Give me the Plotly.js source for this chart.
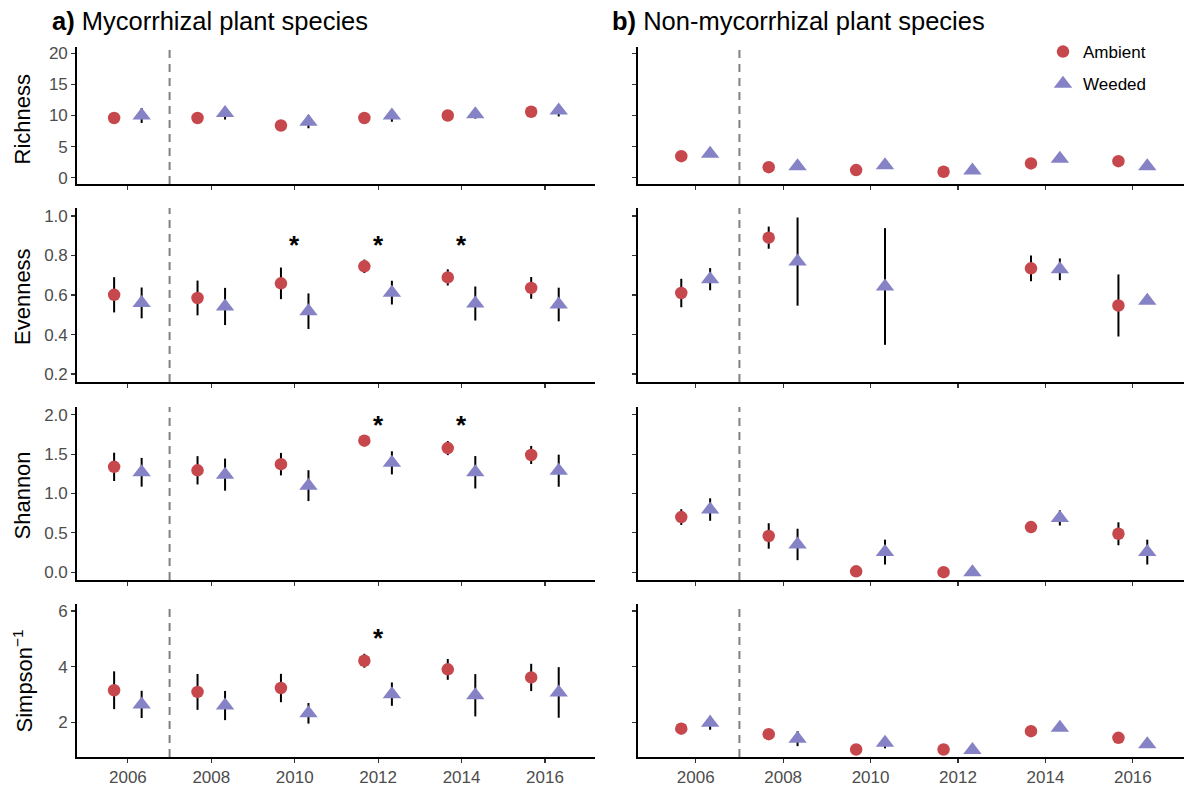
<!DOCTYPE html>
<html>
<head>
<meta charset="utf-8">
<script src="https://cdn.plot.ly/plotly-3.0.1.min.js"></script>
<style>html,body{margin:0;padding:0;background:#fff;}#chart{width:1184px;height:786px;}</style>
</head>
<body>
<div id="chart"></div>
<script>
// ---------------- data ----------------
const years = [2006, 2008, 2010, 2012, 2014, 2016];
const groups = ["Ambient", "Weeded"];
const panelTitles = ["Mycorrhizal plant species", "Non-mycorrhizal plant species"];
const panelLetters = ["a)", "b)"];
const metricNames = ["Richness", "Evenness", "Shannon", "Simpson<sup>\u22121</sup>"];

// Mycorrhizal (a)
const richM_amb = [9.6, 9.6, 8.4, 9.6, 10.0, 10.6];
const richM_amb_se = [0.6, 0.6, 0.6, 0.6, 0.6, 0.6];
const richM_wee = [10.0, 10.4, 9.0, 10.0, 10.2, 10.8];
const richM_wee_se = [1.2, 1.05, 1.05, 1.0, 0.7, 0.95];

const evenM_amb = [0.601, 0.585, 0.659, 0.745, 0.689, 0.636];
const evenM_amb_se = [0.089, 0.088, 0.080, 0.034, 0.041, 0.055];
const evenM_wee = [0.560, 0.542, 0.518, 0.612, 0.557, 0.552];
const evenM_wee_se = [0.078, 0.094, 0.090, 0.060, 0.086, 0.085];

const shanM_amb = [1.339, 1.295, 1.373, 1.672, 1.578, 1.490];
const shanM_amb_se = [0.18, 0.18, 0.143, 0.03, 0.09, 0.115];
const shanM_wee = [1.27, 1.24, 1.10, 1.39, 1.27, 1.29];
const shanM_wee_se = [0.183, 0.204, 0.196, 0.147, 0.206, 0.204];

const simpM_amb = [3.15, 3.09, 3.23, 4.21, 3.90, 3.61];
const simpM_amb_se = [0.68, 0.645, 0.51, 0.25, 0.375, 0.49];
const simpM_wee = [2.64, 2.60, 2.32, 3.01, 2.97, 3.07];
const simpM_wee_se = [0.49, 0.525, 0.37, 0.42, 0.76, 0.91];

// Non-mycorrhizal (b)
const richN_amb = [3.47, 1.70, 1.23, 0.96, 2.30, 2.67];
const richN_amb_se = [0.3, 0.3, 0.3, 0.3, 0.3, 0.3];
const richN_wee = [3.84, 1.87, 2.03, 1.17, 3.04, 1.87];
const richN_wee_se = [0.4, 0.4, 0.4, 0.3, 0.4, 0.3];

const evenN_amb = [0.610, 0.890, null, null, 0.735, 0.547];
const evenN_amb_se = [0.072, 0.056, null, null, 0.065, 0.157];
const evenN_wee = [0.680, 0.769, 0.643, null, 0.730, 0.571];
const evenN_wee_se = [0.056, 0.223, 0.295, null, 0.055, 0];

const shanN_amb = [0.700, 0.460, 0.010, 0.000, 0.573, 0.488];
const shanN_amb_se = [0.10, 0.162, 0, 0, 0.02, 0.146];
const shanN_wee = [0.796, 0.352, 0.255, 0.000, 0.690, 0.255];
const shanN_wee_se = [0.143, 0.200, 0.158, 0, 0.097, 0.158];

const simpN_amb = [1.77, 1.57, 1.02, 1.02, 1.68, 1.44];
const simpN_amb_se = [0.05, 0.05, 0.05, 0.02, 0.05, 0.05];
const simpN_wee = [1.98, 1.41, 1.26, 1.00, 1.80, 1.21];
const simpN_wee_se = [0.25, 0.27, 0.20, 0, 0.05, 0];

// significance stars: metric row, year, value
const starRows = [1, 1, 1, 2, 2, 3];
const starYears = [2010, 2012, 2014, 2012, 2014, 2012];
const starVals = [0.876, 0.876, 0.876, 1.93, 1.93, 5.2];

// axis ticks per metric
const yTickVals = [[0, 5, 10, 15, 20], [0.2, 0.4, 0.6, 0.8, 1.0], [0, 0.5, 1.0, 1.5, 2.0], [2, 4, 6]];
const yTickText = [["0", "5", "10", "15", "20"], ["0.2", "0.4", "0.6", "0.8", "1.0"], ["0.0", "0.5", "1.0", "1.5", "2.0"], ["2", "4", "6"]];
const yRanges = [[-1, 21], [0.16, 1.04], [-0.1, 2.1], [0.75, 6.25]];
const xRanges = [[2004.78, 2017.2], [2004.68, 2017.17]];
const treatmentYear = 2007;

// ---------------- layout / styling ----------------
const W = 1184, H = 786;
const colPx = [[77, 595], [638, 1184]];
const rowPx = [[47, 184], [208, 382], [407, 580], [604, 757]];
const titleShift = [4, 2, 2, 1];
const dodge = 0.33;
const ambColor = "#C7484C", weeColor = "#8682C6";
const FONT = "Liberation Sans, Arial, Helvetica, sans-serif";

const seriesData = [
  [[richM_amb, richM_amb_se, richM_wee, richM_wee_se], [richN_amb, richN_amb_se, richN_wee, richN_wee_se]],
  [[evenM_amb, evenM_amb_se, evenM_wee, evenM_wee_se], [evenN_amb, evenN_amb_se, evenN_wee, evenN_wee_se]],
  [[shanM_amb, shanM_amb_se, shanM_wee, shanM_wee_se], [shanN_amb, shanN_amb_se, shanN_wee, shanN_wee_se]],
  [[simpM_amb, simpM_amb_se, simpM_wee, simpM_wee_se], [simpN_amb, simpN_amb_se, simpN_wee, simpN_wee_se]]
];

const traces = [];
const layout = {
  width: W, height: H,
  margin: {l: 0, r: 0, t: 0, b: 0},
  paper_bgcolor: "#fff", plot_bgcolor: "rgba(0,0,0,0)",
  font: {family: FONT, color: "#000"},
  showlegend: true,
  legend: {
    x: (1063 - 20) / W, xanchor: "left",
    y: 1 - 34 / H, yanchor: "top",
    font: {family: FONT, size: 17, color: "#000"},
    bgcolor: "rgba(0,0,0,0)", tracegroupgap: 7, borderwidth: 0
  },
  shapes: [], annotations: []
};

for (let r = 0; r < 4; r++) {
  for (let c = 0; c < 2; c++) {
    const i = r * 2 + c + 1;
    const xa = "x" + (i === 1 ? "" : i), ya = "y" + (i === 1 ? "" : i);
    const [amb, ambSe, wee, weeSe] = seriesData[r][c];
    const first = (i === 1);
    traces.push({
      type: "scatter", mode: "markers", name: groups[0], legendgroup: "amb",
      showlegend: first, xaxis: xa, yaxis: ya,
      x: years.map(v => v - dodge), y: amb,
      error_y: {type: "data", array: ambSe, visible: true, color: "#000", thickness: 2, width: 0},
      marker: {symbol: "circle", size: 12.5, color: ambColor, line: {width: 0}},
      hoverinfo: "x+y"
    });
    traces.push({
      type: "scatter", mode: "markers", name: groups[1], legendgroup: "wee",
      showlegend: first, xaxis: xa, yaxis: ya,
      x: years.map(v => v + dodge), y: wee,
      error_y: {type: "data", array: weeSe, visible: true, color: "#000", thickness: 2, width: 0},
      marker: {symbol: "triangle-up", size: 16, color: weeColor, line: {width: 0}},
      hoverinfo: "x+y"
    });
    const common = {
      showline: true, linecolor: "#000", linewidth: 1.8,
      ticks: "outside", ticklen: 4, tickwidth: 1.2, tickcolor: "#333",
      showgrid: false, zeroline: false, fixedrange: true,
      tickfont: {family: FONT, size: 17, color: "#4d4d4d"}
    };
    layout["xaxis" + (i === 1 ? "" : i)] = Object.assign({}, common, {
      domain: [colPx[c][0] / W, colPx[c][1] / W],
      range: xRanges[c], tickmode: "array", tickvals: years, ticktext: years.map(String),
      showticklabels: r === 3, anchor: ya
    });
    layout["yaxis" + (i === 1 ? "" : i)] = Object.assign({}, common, {
      domain: [1 - rowPx[r][1] / H, 1 - rowPx[r][0] / H],
      range: yRanges[r], tickmode: "array", tickvals: yTickVals[r], ticktext: yTickText[r],
      showticklabels: c === 0, anchor: xa
    });
    layout.shapes.push({
      type: "line", xref: xa, yref: ya + " domain", x0: treatmentYear, x1: treatmentYear, y0: 0, y1: 1,
      line: {color: "#808080", width: 2, dash: "8px,6px"}, layer: "below"
    });
  }
  // axis titles
  layout.annotations.push({
    xref: "paper", yref: "paper", x: 22 / W, y: 1 - ((rowPx[r][0] + rowPx[r][1]) / 2 + titleShift[r]) / H,
    xanchor: "center", yanchor: "middle", textangle: -90, showarrow: false,
    text: metricNames[r], font: {family: FONT, size: 22, color: "#000"}
  });
}

// stars
for (let k = 0; k < starYears.length; k++) {
  const i = starRows[k] * 2 + 1;
  layout.annotations.push({
    xref: "x" + i, yref: "y" + i, x: starYears[k], y: starVals[k], yshift: -5,
    text: "<b>*</b>", showarrow: false, xanchor: "center", yanchor: "middle",
    font: {family: FONT, size: 26, color: "#000"}
  });
}

// panel titles
const titleX = [50, 610];
for (let c = 0; c < 2; c++) {
  layout.annotations.push({
    xref: "paper", yref: "paper", x: titleX[c] / W, y: 1 - 21 / H,
    xanchor: "left", yanchor: "middle", showarrow: false,
    text: "<b>" + panelLetters[c] + "</b> " + panelTitles[c],
    font: {family: FONT, size: 25.5, color: "#000"}
  });
}

Plotly.newPlot("chart", traces, layout, {staticPlot: true, displayModeBar: false});
</script>
</body>
</html>
